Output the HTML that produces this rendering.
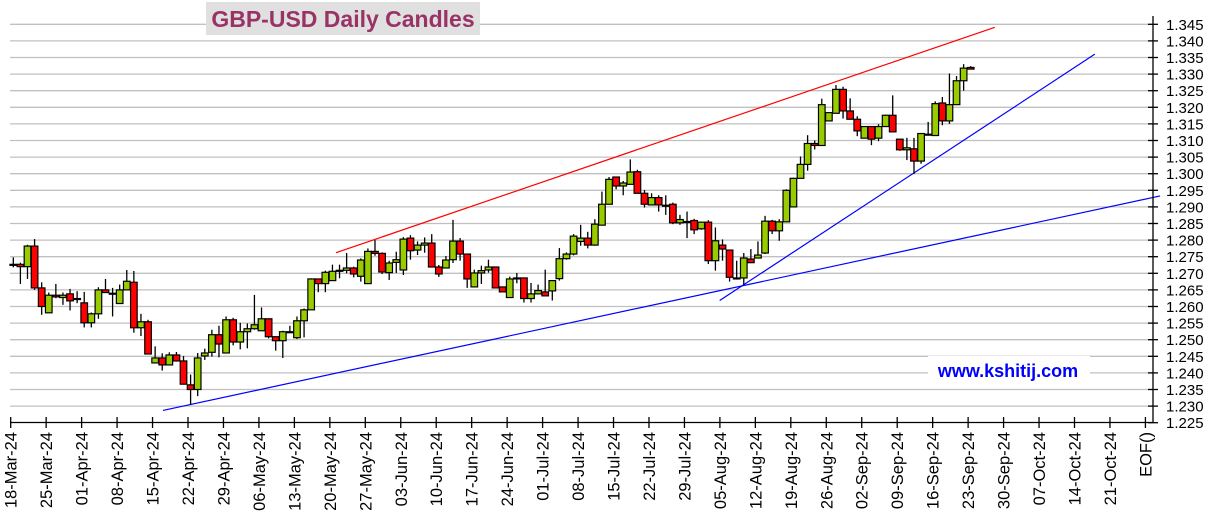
<!DOCTYPE html>
<html>
<head>
<meta charset="utf-8">
<style>
html,body{margin:0;padding:0;background:#fff;}
svg{display:block;font-family:"Liberation Sans",Arial,sans-serif;}
</style>
</head>
<body>
<svg id="chart" width="1217" height="526" viewBox="0 0 1217 526" xmlns="http://www.w3.org/2000/svg">
  <g id="grid"></g>
  <g id="trend"></g>
  <g id="candles"></g>
  <g id="yaxis"></g>
  <g id="xaxis"></g>
  <rect x="206" y="2" width="274" height="33" fill="#e0e0e0"/>
  <text x="343" y="27" text-anchor="middle" font-size="23" font-weight="bold" fill="#993366">GBP-USD Daily Candles</text>
  <rect x="928" y="356" width="162" height="28" fill="#fff"/>
  <text x="1008" y="377" text-anchor="middle" font-size="18" font-weight="bold" fill="#0000ff">www.kshitij.com</text>
</svg>
<script>
const opens=[1.2727,1.2727,1.2720,1.2782,1.2656,1.2581,1.2634,1.2627,1.2638,1.2624,1.2611,1.2551,1.2578,1.2650,1.2640,1.2609,1.2650,1.2673,1.2536,1.2554,1.2430,1.2445,1.2424,1.2454,1.2436,1.2364,1.2350,1.2451,1.2462,1.2515,1.2460,1.2560,1.2493,1.2524,1.2533,1.2527,1.2563,1.2509,1.2497,1.2524,1.2506,1.2557,1.2590,1.2683,1.2669,1.2678,1.2709,1.2709,1.2716,1.2691,1.2669,1.2766,1.2760,1.2702,1.2733,1.2710,1.2806,1.2770,1.2785,1.2791,1.2719,1.2716,1.2741,1.2797,1.2758,1.2659,1.2701,1.2710,1.2719,1.2659,1.2627,1.2686,1.2686,1.2624,1.2638,1.2644,1.2647,1.2684,1.2744,1.2758,1.2796,1.2806,1.2785,1.2845,1.2908,1.2990,1.2963,1.2968,1.3006,1.2941,1.2906,1.2928,1.2905,1.2908,1.2852,1.2856,1.2859,1.2834,1.2854,1.2738,1.2785,1.2770,1.2686,1.2686,1.2743,1.2746,1.2761,1.2857,1.2828,1.2855,1.2900,1.2986,1.3028,1.3091,1.3085,1.3159,1.3182,1.3254,1.3189,1.3164,1.3107,1.3142,1.3107,1.3142,1.3176,1.3104,1.3072,1.3075,1.3038,1.3119,1.3115,1.3213,1.3159,1.3208,1.3280,1.3320];
const highs=[1.2748,1.2732,1.2786,1.2803,1.2673,1.2642,1.2668,1.2642,1.2653,1.2646,1.2644,1.2582,1.2658,1.2683,1.2656,1.2666,1.2710,1.2707,1.2578,1.2560,1.2480,1.2459,1.2462,1.2463,1.2451,1.2395,1.2460,1.2473,1.2530,1.2542,1.2570,1.2566,1.2551,1.2549,1.2635,1.2597,1.2563,1.2509,1.2527,1.2542,1.2570,1.2594,1.2685,1.2683,1.2708,1.2726,1.2726,1.2761,1.2720,1.2745,1.2775,1.2800,1.2763,1.2738,1.2765,1.2809,1.2815,1.2796,1.2808,1.2818,1.2725,1.2752,1.2861,1.2806,1.2758,1.2711,1.2723,1.2741,1.2719,1.2659,1.2690,1.2701,1.2686,1.2671,1.2666,1.2711,1.2678,1.2776,1.2763,1.2818,1.2846,1.2825,1.2863,1.2946,1.2990,1.2990,1.2978,1.3043,1.3012,1.2951,1.2941,1.2935,1.2935,1.2913,1.2876,1.2886,1.2864,1.2856,1.2860,1.2838,1.2802,1.2770,1.2738,1.2761,1.2773,1.2796,1.2873,1.2861,1.2863,1.2953,1.2988,1.3052,1.3116,1.3100,1.3226,1.3184,1.3267,1.3262,1.3227,1.3173,1.3142,1.3142,1.3149,1.3178,1.3236,1.3104,1.3108,1.3108,1.3121,1.3156,1.3218,1.3231,1.3302,1.3294,1.3330,1.3324];
const lows=[1.2718,1.2668,1.2683,1.2650,1.2575,1.2581,1.2625,1.2605,1.2588,1.2610,1.2537,1.2537,1.2563,1.2642,1.2570,1.2609,1.2650,1.2521,1.2511,1.2457,1.2430,1.2407,1.2424,1.2434,1.2366,1.2304,1.2330,1.2439,1.2449,1.2447,1.2460,1.2483,1.2471,1.2474,1.2530,1.2527,1.2504,1.2467,1.2445,1.2520,1.2502,1.2507,1.2590,1.2643,1.2643,1.2678,1.2685,1.2700,1.2688,1.2675,1.2669,1.2753,1.2698,1.2680,1.2701,1.2695,1.2741,1.2755,1.2762,1.2719,1.2689,1.2716,1.2731,1.2738,1.2656,1.2659,1.2668,1.2702,1.2656,1.2644,1.2627,1.2670,1.2612,1.2612,1.2636,1.2632,1.2618,1.2678,1.2741,1.2754,1.2783,1.2775,1.2783,1.2845,1.2908,1.2953,1.2935,1.2968,1.2941,1.2898,1.2906,1.2886,1.2876,1.2848,1.2846,1.2806,1.2818,1.2831,1.2728,1.2708,1.2738,1.2675,1.2681,1.2665,1.2732,1.2746,1.2758,1.2818,1.2798,1.2855,1.2900,1.2986,1.3009,1.3073,1.3085,1.3159,1.3182,1.3166,1.3164,1.3113,1.3107,1.3086,1.3098,1.3142,1.3126,1.3069,1.3041,1.2999,1.3030,1.3117,1.3115,1.3146,1.3150,1.3208,1.3250,1.3314];
const closes=[1.2727,1.2720,1.2782,1.2656,1.2600,1.2634,1.2629,1.2634,1.2617,1.2624,1.2551,1.2578,1.2650,1.2642,1.2640,1.2650,1.2676,1.2536,1.2554,1.2457,1.2445,1.2424,1.2454,1.2436,1.2366,1.2350,1.2445,1.2460,1.2515,1.2487,1.2560,1.2493,1.2524,1.2533,1.2545,1.2563,1.2509,1.2497,1.2524,1.2524,1.2557,1.2590,1.2683,1.2669,1.2703,1.2706,1.2709,1.2716,1.2698,1.2740,1.2766,1.2760,1.2704,1.2731,1.2741,1.2803,1.2768,1.2785,1.2791,1.2719,1.2698,1.2740,1.2797,1.2758,1.2683,1.2701,1.2708,1.2719,1.2656,1.2644,1.2683,1.2686,1.2624,1.2638,1.2648,1.2632,1.2678,1.2744,1.2758,1.2812,1.2806,1.2785,1.2848,1.2908,1.2983,1.2963,1.2972,1.3005,1.2941,1.2908,1.2928,1.2906,1.2905,1.2852,1.2862,1.2856,1.2831,1.2854,1.2738,1.2798,1.2773,1.2688,1.2686,1.2746,1.2732,1.2755,1.2857,1.2828,1.2855,1.2950,1.2986,1.3028,1.3091,1.3085,1.3208,1.3184,1.3254,1.3189,1.3164,1.3129,1.3142,1.3104,1.3142,1.3176,1.3126,1.3072,1.3078,1.3038,1.3121,1.3119,1.3211,1.3159,1.3208,1.3280,1.3318,1.3315];
const yTicks=[1.225,1.230,1.235,1.240,1.245,1.250,1.255,1.260,1.265,1.270,1.275,1.280,1.285,1.290,1.295,1.300,1.305,1.310,1.315,1.320,1.325,1.330,1.335,1.340,1.345];
const xLabels=["18-Mar-24","25-Mar-24","01-Apr-24","08-Apr-24","15-Apr-24","22-Apr-24","29-Apr-24","06-May-24","13-May-24","20-May-24","27-May-24","03-Jun-24","10-Jun-24","17-Jun-24","24-Jun-24","01-Jul-24","08-Jul-24","15-Jul-24","22-Jul-24","29-Jul-24","05-Aug-24","12-Aug-24","19-Aug-24","26-Aug-24","02-Sep-24","09-Sep-24","16-Sep-24","23-Sep-24","30-Sep-24","07-Oct-24","14-Oct-24","21-Oct-24","EOF()"];
// trend lines: [startIndex, startPrice, endIndex, endPrice]
const redTrend=[45.5,1.2762,138.4,1.3441];
const blueLowTrend=[21.1,1.2287,161.7,1.2933];
const blueUpTrend=[99.6,1.2618,152.5,1.3360];

const NS="http://www.w3.org/2000/svg";
function yOf(p){return 24.3+(1.345-p)/0.005*16.6;}
function xOf(i){return 13.3+i*7.092;}
function mk(tag,attrs,parent){const e=document.createElementNS(NS,tag);for(const k in attrs)e.setAttribute(k,attrs[k]);parent.appendChild(e);return e;}

const grid=document.getElementById('grid');
const yaxis=document.getElementById('yaxis');
const xaxis=document.getElementById('xaxis');
const cg=document.getElementById('candles');
const tg=document.getElementById('trend');

yTicks.forEach(function(v){
  const y=yOf(v);
  if(v>1.2251){
    const g=mk('line',{x1:10,x2:1152,y1:y,y2:y,stroke:'#c0c0c0','stroke-width':1.3},grid);
    
    
  }
  const t=mk('line',{x1:1148,x2:1158,y1:y,y2:y,stroke:'#000','stroke-width':1.3},yaxis);
  
  
  const l=mk('text',{x:1166,y:y+5.5,'font-size':15,fill:'#000'},yaxis);
  
  
  l.textContent=v.toFixed(3);
});
const ya=mk('line',{x1:1153,x2:1153,y1:16,y2:423,stroke:'#000','stroke-width':1.3},yaxis);



const xa=mk('line',{x1:10,x2:1153,y1:422.5,y2:422.5,stroke:'#000','stroke-width':1.3},xaxis);


xLabels.forEach(function(s,k){
  const x=10.7+k*35.46;
  const t=mk('line',{x1:x,x2:x,y1:417,y2:428,stroke:'#000','stroke-width':1.3},xaxis);
  
  
  const l=mk('text',{x:0,y:0,'font-size':16.5,fill:'#000','text-anchor':'end',transform:'translate('+(x+6)+',432) rotate(-90)'},xaxis);
  
  
  l.textContent=s;
});

function trend(arr,color,name){
  const l=mk('line',{x1:xOf(arr[0]),y1:yOf(arr[1]),x2:xOf(arr[2]),y2:yOf(arr[3]),stroke:color,'stroke-width':1.2},tg);
  
  
}
trend(redTrend,'#ff0000','red-resistance-trendline');
trend(blueLowTrend,'#0000ff','blue-long-support-trendline');
trend(blueUpTrend,'#0000ff','blue-short-support-trendline');

opens.forEach(function(o,i){
  const c=closes[i],h=highs[i],lo=lows[i];
  const x=xOf(i);
  const w=mk('line',{x1:x,x2:x,y1:yOf(h),y2:yOf(lo),stroke:'#000','stroke-width':1.3},cg);
  
  
  const top=yOf(Math.max(o,c)),bot=yOf(Math.min(o,c));
  const hgt=Math.max(bot-top,1);
  const fill=c>=o?'#99cc00':'#ff0000';
  const b=mk('rect',{x:x-3.3,y:top,width:6.6,height:hgt,fill:fill,stroke:'#000','stroke-width':1.2},cg);
  
  
});
</script>
</body>
</html>
